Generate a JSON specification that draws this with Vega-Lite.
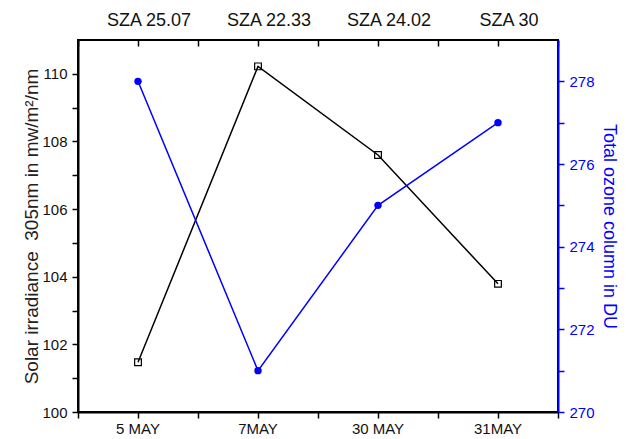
{
  "$schema": "https://vega.github.io/schema/vega-lite/v6.json",
  "width": 480,
  "height": 372,
  "autosize": {"type": "none"},
  "padding": {"left": 78, "top": 40, "right": 72, "bottom": 27},
  "background": "white",
  "config": {
    "font": "Liberation Sans",
    "view": {"stroke": "black", "strokeWidth": 2},
    "axis": {"grid": false, "labelFont": "Liberation Sans", "titleFont": "Liberation Sans", "titleFontWeight": "normal"}
  },
  "data": {
    "values": [
      {"date": "5 MAY", "sza": "SZA 25.07", "irradiance": 101.47, "ozone": 278},
      {"date": "7MAY", "sza": "SZA 22.33", "irradiance": 110.22, "ozone": 271},
      {"date": "30 MAY", "sza": "SZA 24.02", "irradiance": 107.6, "ozone": 275},
      {"date": "31MAY", "sza": "SZA 30", "irradiance": 103.79, "ozone": 277}
    ]
  },
  "layer": [
    {
      "mark": {"type": "line", "color": "black", "strokeWidth": 1.5},
      "encoding": {
        "x": {
          "field": "date", "type": "ordinal",
          "sort": ["5 MAY", "7MAY", "30 MAY", "31MAY"],
          "scale": {"type": "band", "paddingInner": 0, "paddingOuter": 0},
          "axis": {"orient": "bottom", "title": null, "labelAngle": 0, "labelFontSize": 15, "labelColor": "#111", "labelPadding": 3, "tickSize": 6, "tickWidth": 1.5, "tickColor": "black", "domainColor": "black", "domainWidth": 2}
        },
        "y": {
          "field": "irradiance", "type": "quantitative",
          "scale": {"domain": [100, 111], "nice": false, "zero": false},
          "axis": {
            "orient": "left",
            "title": "Solar irradiance\u00a0 305nm in mw/m²/nm",
            "titleFontSize": 19, "titleColor": "#222", "titlePadding": 0,
            "values": [100, 101, 102, 103, 104, 105, 106, 107, 108, 109, 110],
            "labelExpr": "datum.value % 2 === 0 ? datum.label : ''",
            "labelFontSize": 15, "labelColor": "#111", "labelPadding": 5,
            "tickSize": 6, "tickWidth": 1.5,
            "tickColor": "black", "domainColor": "black", "domainWidth": 2
          }
        }
      }
    },
    {
      "mark": {"type": "point", "shape": "square", "filled": false, "color": "black", "strokeWidth": 1.2, "size": 45, "opacity": 1},
      "encoding": {
        "x": {
          "field": "date", "type": "ordinal",
          "sort": ["5 MAY", "7MAY", "30 MAY", "31MAY"],
          "scale": {"type": "band", "paddingInner": 0, "paddingOuter": 0},
          "axis": {"orient": "bottom", "title": null, "labels": false, "domain": false, "tickBand": "extent", "tickSize": 6, "tickWidth": 1.5, "tickColor": "black"}
        },
        "y": {
          "field": "irradiance", "type": "quantitative",
          "scale": {"domain": [100, 111], "nice": false, "zero": false},
          "axis": null
        }
      }
    },
    {
      "mark": {"type": "line", "color": "#0000ff", "strokeWidth": 1.5},
      "encoding": {
        "x": {
          "field": "sza", "type": "ordinal",
          "sort": ["SZA 25.07", "SZA 22.33", "SZA 24.02", "SZA 30"],
          "scale": {"type": "band", "paddingInner": 0, "paddingOuter": 0},
          "axis": {"orient": "top", "title": null, "offset": -6, "domain": false, "labelAngle": 0, "labelFontSize": 18, "labelColor": "#111", "labelPadding": 11, "labelOffset": 11, "tickSize": 6, "tickWidth": 1.5, "tickColor": "black"}
        },
        "y": {
          "field": "ozone", "type": "quantitative",
          "scale": {"domain": [270, 279], "nice": false, "zero": false},
          "axis": {
            "orient": "right",
            "title": "Total ozone column in DU",
            "titleFontSize": 18, "titleColor": "#0000ff", "titlePadding": 5,
            "values": [270, 271, 272, 273, 274, 275, 276, 277, 278],
            "labelExpr": "datum.value % 2 === 0 ? datum.label : ''",
            "labelFontSize": 15, "labelColor": "#0000ff", "labelPadding": 5,
            "tickSize": 6, "tickWidth": 1.5,
            "tickColor": "#0000ff", "domainColor": "#0000ff", "domainWidth": 2
          }
        }
      }
    },
    {
      "mark": {"type": "circle", "color": "#0000ff", "size": 55, "opacity": 1},
      "encoding": {
        "x": {
          "field": "sza", "type": "ordinal",
          "sort": ["SZA 25.07", "SZA 22.33", "SZA 24.02", "SZA 30"],
          "scale": {"type": "band", "paddingInner": 0, "paddingOuter": 0},
          "axis": {"orient": "top", "title": null, "offset": -6, "labels": false, "domain": false, "tickBand": "extent", "tickSize": 6, "tickWidth": 1.5, "tickColor": "black"}
        },
        "y": {
          "field": "ozone", "type": "quantitative",
          "scale": {"domain": [270, 279], "nice": false, "zero": false},
          "axis": null
        }
      }
    }
  ],
  "resolve": {
    "scale": {"x": "independent", "y": "independent"},
    "axis": {"x": "independent", "y": "independent"}
  }
}
